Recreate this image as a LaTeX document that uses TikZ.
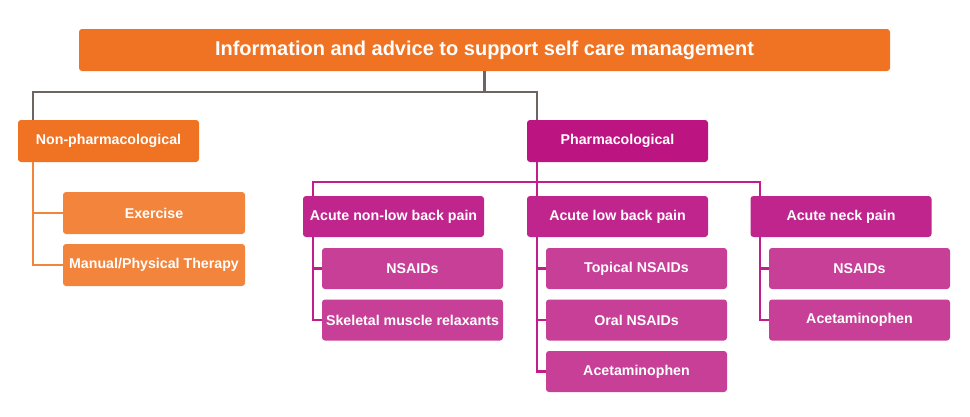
\documentclass[tikz,border=0pt]{standalone}
\usepackage{fontspec}
\setmainfont{Liberation Sans}
\definecolor{orA}{HTML}{F07223}
\definecolor{orB}{HTML}{F2843C}
\definecolor{grL}{HTML}{6E6562}
\definecolor{mgA}{HTML}{BC1480}
\definecolor{mgB}{HTML}{C0258D}
\definecolor{mgC}{HTML}{C83F98}
\definecolor{mgL}{HTML}{C31C8C}
\tikzset{
  bx/.style={rounded corners=3pt, minimum width=181pt, minimum height=42pt, inner sep=0pt, text=white, font=\bfseries\fontsize{14.2}{16}\selectfont},
  lnG/.style={draw=grL, line width=2.2pt},
  lnO/.style={draw=orB, line width=2.2pt},
  lnM/.style={draw=mgL, line width=2.2pt},
}
\begin{document}
\begin{tikzpicture}[x=1pt,y=-1pt]
\useasboundingbox (0,0) rectangle (970,416);
\node[bx, fill=orA, minimum width=811pt, font=\bfseries\fontsize{20}{23}\selectfont] (top) at (484.5,50) {Information and advice to support self care management};
\node[bx, fill=orA] (nonph) at (108.5,141) {Non-pharmacological};
\node[bx, fill=orB, minimum width=182pt] (ex) at (154,213) {Exercise};
\node[bx, fill=orB, minimum width=182pt] (man) at (154,265) {Manual/Physical Therapy};
\node[bx, fill=mgA] (pharm) at (617.5,141) {Pharmacological};
\node[bx, fill=mgB, minimum height=41pt] (anl) at (393.5,216.5) {Acute non-low back pain};
\node[bx, fill=mgB, minimum height=41pt] (alb) at (617.5,216.5) {Acute low back pain};
\node[bx, fill=mgB, minimum height=41pt] (anp) at (841,216.5) {Acute neck pain};
\node[bx, fill=mgC, minimum height=41pt] (n1) at (412.5,268.5) {NSAIDs};
\node[bx, fill=mgC, minimum height=41pt] (n2) at (412.5,320) {Skeletal muscle relaxants};
\node[bx, fill=mgC, minimum height=41pt] (l1) at (636.5,268.5) {Topical NSAIDs};
\node[bx, fill=mgC, minimum height=41pt] (l2) at (636.5,320) {Oral NSAIDs};
\node[bx, fill=mgC, minimum height=41pt] (l3) at (636.5,371.5) {Acetaminophen};
\node[bx, fill=mgC, minimum height=41pt] (k1) at (859.5,268.5) {NSAIDs};
\node[bx, fill=mgC, minimum height=41pt] (k2) at (859.5,320) {Acetaminophen};
\coordinate (gL) at (33,92);
\coordinate (gR) at (537,92);
\coordinate (mL) at (313,182);
\coordinate (mR) at (760,182);
% gray
\draw[lnG] (top.south) -- (top.south |- gL);
\draw[lnG] (gL |- nonph.north) -- (gL) -- (gR) -- (gR |- pharm.north);
% orange
\draw[lnO] (gL |- nonph.south) -- (gL |- man.west) -- (man.west);
\draw[lnO] (gL |- ex.west) -- (ex.west);
% magenta
\draw[lnM] (gR |- pharm.south) -- (gR |- alb.north);
\draw[lnM] (mL |- anl.north) -- (mL) -- (mR) -- (mR |- anp.north);
\draw[lnM] (mL |- anl.south) -- (mL |- n2.west) -- (n2.west);
\draw[lnM] (mL |- n1.west) -- (n1.west);
\draw[lnM] (gR |- alb.south) -- (gR |- l3.west) -- (l3.west);
\draw[lnM] (gR |- l1.west) -- (l1.west);
\draw[lnM] (gR |- l2.west) -- (l2.west);
\draw[lnM] (mR |- anp.south) -- (mR |- k2.west) -- (k2.west);
\draw[lnM] (mR |- k1.west) -- (k1.west);
\end{tikzpicture}
\end{document}
